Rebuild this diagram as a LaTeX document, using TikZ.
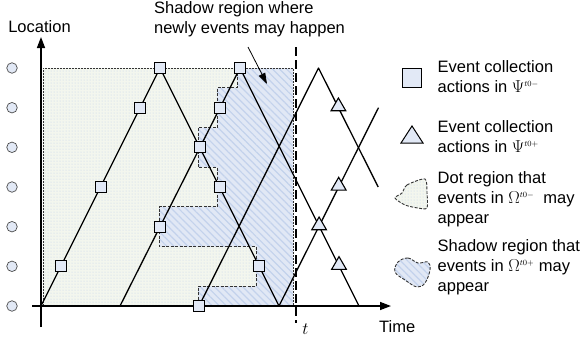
\documentclass[tikz,border=0pt]{standalone}
\usepackage{fontspec}
\setmainfont{Liberation Sans}
\usetikzlibrary{patterns,patterns.meta,arrows.meta,shapes.geometric}
\definecolor{dotbg}{HTML}{F3F6EE}
\definecolor{dotfg}{HTML}{C2D2EC}
\definecolor{shbg}{HTML}{E1E8F5}
\definecolor{shfg}{HTML}{C3D2EC}
\definecolor{mk}{HTML}{E2E9F6}
\tikzset{
  txt/.style={font=\fontsize{16.5}{20}\selectfont, inner sep=0pt},
  sq/.style={draw=black, fill=mk, line width=1.2pt, minimum size=11pt, inner sep=0pt, rectangle},
  tri/.style={draw=black, fill=mk, line width=1.1pt, regular polygon, regular polygon sides=3, minimum size=17pt, inner sep=0pt},
  loc/.style={draw=black!70, fill=mk, line width=0.7pt, circle, minimum size=10.5pt, inner sep=0pt},
  trace/.style={line width=1.3pt, line join=round},
  border/.style={draw=black!80, line width=0.7pt, dash pattern=on 2pt off 1pt},
  stair/.style={draw=black!80, line width=0.8pt, dash pattern=on 3pt off 1.5pt},
  axis/.style={line width=1.4pt, -{Triangle[length=11pt,width=8pt]}},
  blob/.style={draw=black!80, line width=0.9pt, dash pattern=on 3pt off 1.5pt},
}
\newcommand{\supr}[1]{^{\scriptscriptstyle #1}}
\begin{document}
\begin{tikzpicture}[x=1pt,y=-1pt]
\useasboundingbox (0,0) rectangle (582,341);
% regions
\fill[dotbg] (43,68) rectangle (293,306);
\fill[pattern=dots, pattern color=dotfg] (43,68) rectangle (293,306);
\def\stairpath{(237,68) -- (293,68) -- (293,306) -- (198,306) -- (198,286.2) -- (256,286.2) -- (256,246.5) -- (159,246.5) -- (159,206.8) -- (217,206.8) -- (217,167.2) -- (198,167.2) -- (198,127.5) -- (217,127.5) -- (217,87.8) -- (237,87.8) -- cycle}
\fill[shbg] \stairpath;
\fill[pattern={Lines[angle=-45,distance=5pt,line width=1.2pt]}, pattern color=shfg] \stairpath;
\draw[border] (43,306) -- (43,68) -- (293,68) -- (293,306);
\draw[stair] (237,68) -- (237,87.8) -- (217,87.8) -- (217,127.5) -- (198,127.5) -- (198,167.2) -- (217,167.2) -- (217,206.8) -- (159,206.8) -- (159,246.5) -- (256,246.5) -- (256,286.2) -- (198,286.2) -- (198,306);
% row circles
\foreach \k/\yy in {0/306,1/266.3,2/226.7,3/187,4/147.3,5/107.7,6/68}
  \node[loc] (c\k) at (12,\yy) {};
% trace vertices
\coordinate (a0) at (41,306);
\coordinate (a1) at (160,68);
\coordinate (a2) at (279,306);
\coordinate (a3) at (378.5,107.7);
\coordinate (b0) at (120,306);
\coordinate (b1) at (240,68);
\coordinate (b2) at (359,306);
\coordinate (d0) at (199,306);
\coordinate (d1) at (318.5,68);
\coordinate (d2) at (378.2,187);
\draw[trace] (a0) -- (a1) -- (a2) -- (a3);
\draw[trace] (b0) -- (b1) -- (b2);
\draw[trace] (d0) -- (d1) -- (d2);
% time line t
\coordinate (tt) at (296,47);
\coordinate (tb) at (296,323);
\draw[line width=1.6pt, dash pattern=on 9pt off 4pt] (tt) -- (tb);
% axes
\coordinate (yb) at (41,327);
\coordinate (yt) at (41,37);
\coordinate (xl) at (32,306);
\coordinate (xr) at (391,306);
\draw[axis] (yb) -- (yt);
\draw[axis] (xl) -- (xr);
% squares
\node[sq] (s1) at (61,266) {};
\node[sq] (s2) at (101,187) {};
\node[sq] (s3) at (140,108) {};
\node[sq] (s4) at (160,68) {};
\node[sq] (s5) at (200,147) {};
\node[sq] (s6) at (220,187) {};
\node[sq] (s7) at (259,266) {};
\node[sq] (s8) at (160,227) {};
\node[sq] (s9) at (220,108) {};
\node[sq] (s10) at (240,68) {};
\node[sq] (s11) at (199,306) {};
% triangles
\node[tri] (t1) at (338.4,106.5) {};
\node[tri] (t2) at (338.7,185.8) {};
\node[tri] (t3) at (319.1,225.5) {};
\node[tri] (t4) at (339,265.1) {};
% labels
\node[txt] (loc) at (39.5,27) {Location};
\node[txt, anchor=west] (time) at (379,327) {Time};
\node[font=\fontsize{16.5}{20}\selectfont, inner sep=0pt] (tl) at (305.5,329) {$t$};
\node[txt, align=left] (ann) at (249.5,19.5) {Shadow region where\\newly events may happen};
\coordinate (ann1) at (248,47);
\coordinate (ann2) at (267,84);
\draw[line width=0.8pt, -{Triangle[length=11pt,width=7pt]}] (ann1) -- (ann2);
% legend
\node[draw=black, fill=mk, line width=1pt, minimum size=19pt, inner sep=0pt] (lsq) at (412,78) {};
\node[txt, anchor=west, align=left] (l1) at (437.5,77) {Event collection\\actions in $\Psi\supr{t0-}$};
\draw[line width=1pt, fill=mk, line join=miter] (401,143) -- (423,143) -- (412,126) -- cycle;
\node[txt, anchor=west, align=left] (l2) at (437.5,137) {Event collection\\actions in $\Psi\supr{t0+}$};
\def\blobA{plot[smooth cycle, tension=0.45] coordinates {(425,179) (407,185) (402,193) (395,198) (405,205) (418,208) (427,208) (427,193)}}
\fill[dotbg] \blobA;
\fill[pattern=dots, pattern color=dotfg] \blobA;
\draw[blob] \blobA;
\node[txt, anchor=west, align=left] (l3) at (437.5,199.5) {Dot region that\\events in $\Omega\supr{t0-}$\ \ may\\appear};
\def\blobB{plot[smooth cycle, tension=0.6] coordinates {(398,262) (408,258) (418,263) (428,262) (430,270) (425,283) (417,287) (405,280) (395,272)}}
\fill[shbg] \blobB;
\fill[pattern={Lines[angle=-45,distance=5pt,line width=1.2pt]}, pattern color=shfg] \blobB;
\draw[blob] \blobB;
\node[txt, anchor=west, align=left] (l4) at (437.5,267) {Shadow region that\\events in $\Omega\supr{t0+}$ may\\appear};
\end{tikzpicture}
\end{document}
